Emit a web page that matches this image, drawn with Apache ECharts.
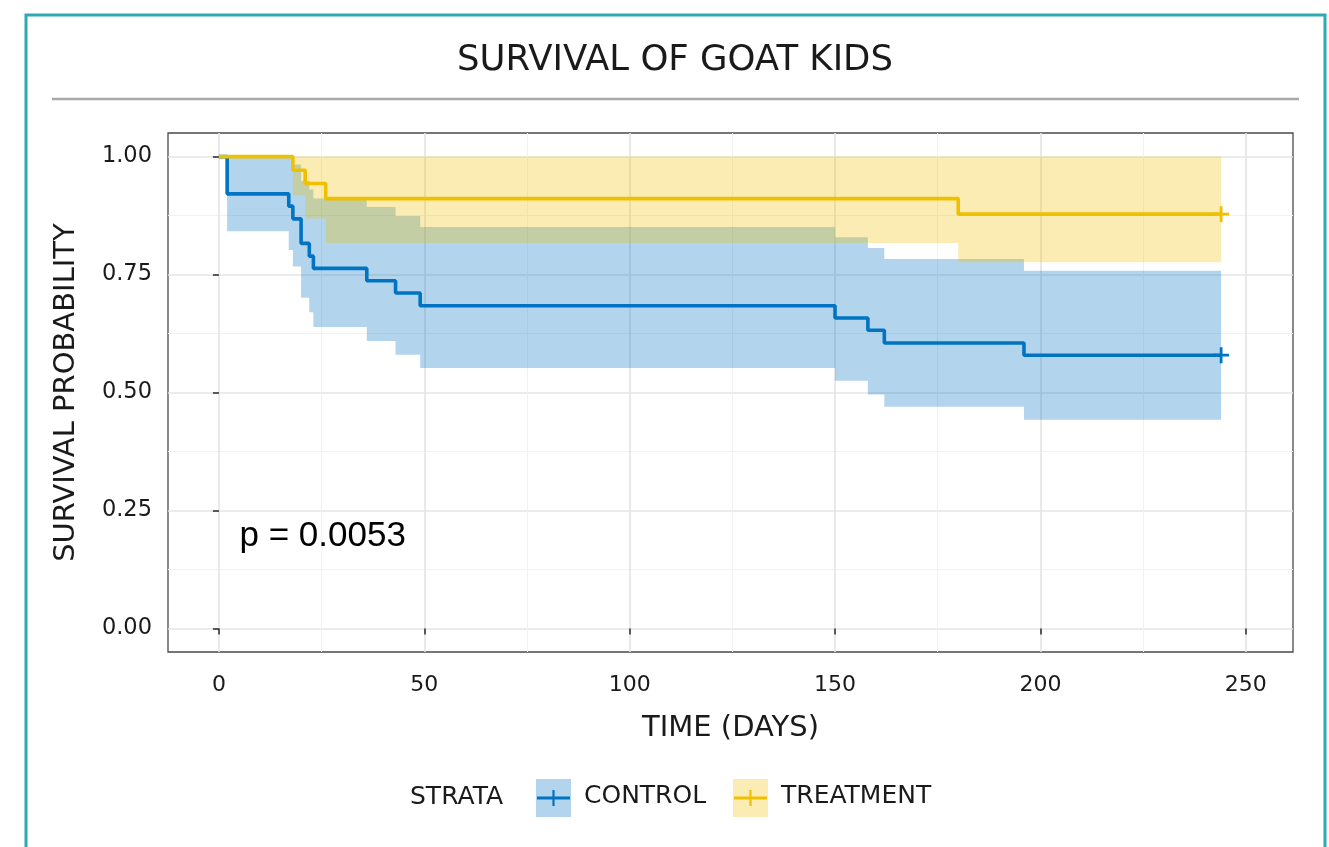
<!DOCTYPE html>
<html>
<head>
<meta charset="utf-8">
<script src="https://cdn.jsdelivr.net/npm/echarts@6/dist/echarts.min.js"></script>
<style>
html,body{margin:0;padding:0;background:#ffffff;}
#chart{width:1329px;height:847px;}
</style>
</head>
<body>
<div id="chart"></div>
<script>
// ---------------- data ----------------
const chartTitle = 'SURVIVAL OF GOAT KIDS';
const legendTitle = 'STRATA';
const strata = ['CONTROL', 'TREATMENT'];

const controlTime  = [0, 2, 17, 18, 20, 22, 23, 36, 43, 49, 150, 158, 162, 196, 244];
const controlSurv  = [1, 0.921, 0.895, 0.868, 0.816, 0.789, 0.763, 0.737, 0.711, 0.684, 0.658, 0.632, 0.605, 0.579, 0.579];
const controlUpper = [1, 1, 0.998, 0.983, 0.949, 0.930, 0.911, 0.893, 0.874, 0.851, 0.829, 0.806, 0.783, 0.758, 0.758];
const controlLower = [1, 0.842, 0.802, 0.767, 0.701, 0.670, 0.639, 0.609, 0.580, 0.552, 0.525, 0.496, 0.470, 0.442, 0.442];

const treatTime  = [0, 18, 21, 26, 180, 244];
const treatSurv  = [1, 0.971, 0.943, 0.911, 0.878, 0.878];
const treatUpper = [1, 1, 1, 1, 1, 1];
const treatLower = [1, 0.918, 0.869, 0.817, 0.776, 0.776];

const censorTime = [244, 244];          // last follow-up (censor mark) per stratum
const censorSurv = [0.579, 0.878];

const xTicks = [0, 50, 100, 150, 200, 250];
const xMinorTicks = [25, 75, 125, 175, 225];
const yTicks = [0, 0.25, 0.5, 0.75, 1];
const yMinorTicks = [0.125, 0.375, 0.625, 0.875];
const yTickLabels = ['0.00', '0.25', '0.50', '0.75', '1.00'];

const pValueText = 'p = 0.0053';
const pValueAt = [5, 0.195];

// ---------------- styling ----------------
const FONT = 'DejaVu Sans';
const lineColors = ['#0073C2', '#EFC000'];
const ribbonColors = ['rgba(0,115,194,0.3)', 'rgba(239,192,0,0.3)'];
const xMin = -12.4, xMax = 261.5, yMin = -0.05, yMax = 1.05;

function pts(t, v) { return t.map((x, i) => [x, v[i]]); }

const groups = [
  { time: controlTime, surv: controlSurv, up: controlUpper, lo: controlLower },
  { time: treatTime, surv: treatSurv, up: treatUpper, lo: treatLower }
];

// step-shaped confidence band as one polygon, mapped through the axes
function ribbonRenderer(g, color) {
  return function (params, api) {
    const t = g.time, n = t.length, poly = [];
    for (let i = 0; i < n - 1; i++) {
      poly.push(api.coord([t[i], g.up[i]]));
      poly.push(api.coord([t[i + 1], g.up[i]]));
    }
    poly.push(api.coord([t[n - 1], g.up[n - 1]]));
    poly.push(api.coord([t[n - 1], g.lo[n - 1]]));
    for (let i = n - 2; i >= 0; i--) {
      poly.push(api.coord([t[i + 1], g.lo[i]]));
      poly.push(api.coord([t[i], g.lo[i]]));
    }
    return { type: 'polygon', shape: { points: poly }, style: { fill: color }, silent: true };
  };
}

const series = [];
groups.forEach((g, i) => {
  series.push({
    name: strata[i] + '_ci', type: 'custom', coordinateSystem: 'cartesian2d',
    data: [[g.time[0], g.surv[0]]], renderItem: ribbonRenderer(g, ribbonColors[i]),
    clip: true, silent: true, z: 1 + i
  });
});
groups.forEach((g, i) => {
  series.push({
    name: strata[i], type: 'line', step: 'end', data: pts(g.time, g.surv),
    showSymbol: false, silent: true,
    lineStyle: { color: lineColors[i], width: 3.6 }, emphasis: { disabled: true }, z: 4 + i
  });
});
groups.forEach((g, i) => {
  series.push({
    name: strata[i] + '_censor', type: 'scatter',
    data: [[censorTime[i], censorSurv[i]]],
    symbol: 'path://M-1.2,-7H1.2V-1.2H7V1.2H1.2V7H-1.2V1.2H-7V-1.2H-1.2Z', symbolSize: 16,
    itemStyle: { color: lineColors[i], opacity: 1 }, silent: true, z: 6
  });
});
series.push({
  name: 'pvalue', type: 'scatter', data: [pValueAt], symbolSize: 0, silent: true, z: 7,
  itemStyle: { opacity: 1 },
  label: {
    show: true, position: 'right', distance: 0, formatter: pValueText,
    fontFamily: 'Liberation Sans', fontSize: 35, color: '#000', opacity: 1
  }
});

// legend drawn as graphic (title + keys)
const legendKeyX = [536, 733];
const legendFont = '25px "' + FONT + '"';
const legendGraphic = [
  { type: 'text', left: 410, top: 785, style: { text: legendTitle, font: legendFont, fill: '#1a1a1a' } }
];
strata.forEach((s, i) => {
  const kx = legendKeyX[i];
  legendGraphic.push({ type: 'rect', shape: { x: kx, y: 779, width: 35, height: 38 }, style: { fill: ribbonColors[i] } });
  legendGraphic.push({ type: 'line', shape: { x1: kx + 1, y1: 798, x2: kx + 34, y2: 798 }, style: { stroke: lineColors[i], lineWidth: 3.2 } });
  legendGraphic.push({ type: 'line', shape: { x1: kx + 17.5, y1: 790, x2: kx + 17.5, y2: 806 }, style: { stroke: lineColors[i], lineWidth: 2.2 } });
  legendGraphic.push({ type: 'text', left: kx + 48, top: 784, style: { text: s, font: legendFont, fill: '#1a1a1a' } });
});

const chart = echarts.init(document.getElementById('chart'), null, { renderer: 'canvas' });
chart.setOption({
  animation: false,
  backgroundColor: '#ffffff',
  grid: { left: 168, right: 36, top: 133, bottom: 195, show: true, borderColor: '#4a4a4a', borderWidth: 1.3, backgroundColor: 'transparent' },
  xAxis: [{
    type: 'value', min: xMin, max: xMax,
    axisLine: { show: false },
    axisTick: { show: true, customValues: xTicks, length: 6, lineStyle: { color: '#333', width: 1.6 } },
    axisLabel: { customValues: xTicks, fontFamily: FONT, fontSize: 22, color: '#1a1a1a', margin: 22 },
    splitLine: { show: true, lineStyle: { color: '#e4e4e4', width: 1.6 } },
    name: 'TIME (DAYS)', nameLocation: 'middle', nameGap: 62,
    nameTextStyle: { fontFamily: FONT, fontSize: 29, color: '#1a1a1a' }
  }, {
    type: 'value', min: xMin, max: xMax, position: 'bottom',
    axisLine: { show: false },
    axisTick: { show: false, customValues: xMinorTicks },
    axisLabel: { show: false, customValues: xMinorTicks },
    splitLine: { show: true, lineStyle: { color: '#f1f1f1', width: 1 } }
  }],
  yAxis: [{
    type: 'value', min: yMin, max: yMax,
    axisLine: { show: false },
    axisTick: { show: true, customValues: yTicks, length: 6, lineStyle: { color: '#333', width: 1.6 } },
    axisLabel: {
      customValues: yTicks, fontFamily: FONT, fontSize: 22.5, color: '#1a1a1a', margin: 16,
      formatter: v => yTickLabels[yTicks.findIndex(t => Math.abs(t - v) < 1e-9)] ?? ''
    },
    splitLine: { show: true, lineStyle: { color: '#e4e4e4', width: 1.6 } },
    name: 'SURVIVAL PROBABILITY', nameLocation: 'middle', nameGap: 87,
    nameTextStyle: { fontFamily: FONT, fontSize: 29, color: '#1a1a1a' }
  }, {
    type: 'value', min: yMin, max: yMax, position: 'left',
    axisLine: { show: false },
    axisTick: { show: false, customValues: yMinorTicks },
    axisLabel: { show: false, customValues: yMinorTicks },
    splitLine: { show: true, lineStyle: { color: '#f1f1f1', width: 1 } }
  }],
  graphic: [
    { type: 'rect', shape: { x: 26, y: 15, width: 1299, height: 900 }, style: { fill: 'none', stroke: '#2eaab3', lineWidth: 3 } },
    { type: 'text', x: 675, y: 61, style: { text: chartTitle, font: '35.5px "' + FONT + '"', fill: '#1a1a1a', textAlign: 'center', textVerticalAlign: 'middle' } },
    { type: 'line', shape: { x1: 52, y1: 99, x2: 1299, y2: 99 }, style: { stroke: '#a9a9a9', lineWidth: 2.5 } }
  ].concat(legendGraphic),
  series: series
});
</script>
</body>
</html>
